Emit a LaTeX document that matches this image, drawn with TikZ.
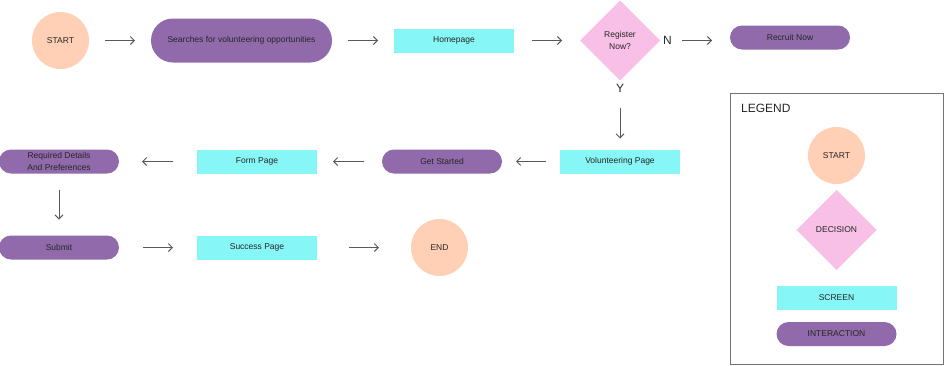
\documentclass[tikz,border=0pt]{standalone}
\usepackage{fontspec}
\setmainfont{Liberation Sans}
\usepackage{xcolor}
\usetikzlibrary{arrows.meta,positioning,shapes.geometric}
\definecolor{peach}{RGB}{255,208,181}
\definecolor{violet}{RGB}{144,106,170}
\definecolor{aqua}{RGB}{135,246,246}
\definecolor{rose}{RGB}{248,192,230}
\tikzset{
  termnode/.style={circle,fill=peach,minimum size=57pt,inner sep=0pt,outer sep=0pt},
  interbox/.style={rectangle,rounded corners=12pt,fill=violet,minimum width=120pt,minimum height=24pt,inner sep=2pt,outer sep=0pt,align=center},
  screenbox/.style={rectangle,fill=aqua,minimum width=120pt,minimum height=24pt,inner sep=2pt,outer sep=0pt,align=center},
  decision/.style={diamond,fill=rose,aspect=1,minimum width=80pt,minimum height=80pt,inner sep=0pt,outer sep=0pt,align=center},
  biglabel/.style={inner sep=0pt,font=\fontsize{12}{14}\selectfont},
  legendbox/.style={rectangle,draw=black!55,line width=0.8pt,minimum width=213pt,minimum height=271pt,inner sep=0pt,outer sep=0pt},
  arrow/.style={-{Straight Barb[length=4pt,width=8pt]},line width=1pt,draw=black!65,shorten <=16pt,shorten >=16pt}
}

\begin{document}
\begin{tikzpicture}[x=1pt,y=1pt,every node/.style={font=\fontsize{8.5}{12}\selectfont,text=black!85}]
  \useasboundingbox (0,0) rectangle (944,-365);

  \node[termnode] (start) at (60.5,-40.5) {START};
  \node[interbox,rounded corners=22pt,minimum width=181pt,minimum height=44pt,right=62pt of start] (search) {Searches for volunteering opportunities};
  \node[screenbox,right=62pt of search] (home) {Homepage};
  \node[decision,right=66pt of home] (reg) {Register\\Now?};
  \node[interbox,right=70pt of reg,yshift=3pt] (recruit) {Recruit Now};
  \node[biglabel,right=3pt of reg.east] (no) {N};
  \node[biglabel,below=4pt of reg.south] (yes) {Y};

  \node[screenbox,below=69pt of reg] (vol) {Volunteering Page};
  \node[interbox,left=58pt of vol] (getstarted) {Get Started};
  \node[screenbox,left=65pt of getstarted] (form) {Form Page};
  \node[interbox,left=78pt of form] (details) {Required Details\\And Preferences};
  \node[interbox,below=62pt of details] (submit) {Submit};
  \node[screenbox,right=78pt of submit] (success) {Success Page};
  \node[termnode,right=94pt of success] (finish) {END};

  \draw[arrow] (start) -- (search);
  \draw[arrow] (search) -- (home);
  \draw[arrow,shorten <=18pt,shorten >=18pt] (home) -- (reg);
  \draw[arrow,shorten <=22pt,shorten >=18pt] (reg.east) -- (reg.east -| recruit.west);
  \draw[arrow,shorten <=27pt,shorten >=11pt] (reg) -- (vol);
  \draw[arrow,shorten <=14pt,shorten >=14pt] (vol) -- (getstarted);
  \draw[arrow,shorten <=18pt,shorten >=16pt] (getstarted) -- (form);
  \draw[arrow,shorten <=24pt,shorten >=23pt] (form) -- (details);
  \draw[arrow] (details) -- (submit);
  \draw[arrow,shorten <=24pt,shorten >=24pt] (submit) -- (success);
  \draw[arrow,shorten <=32pt,shorten >=32pt] (success) -- (finish);

  \node[legendbox] (legend) at (836.5,-228.5) {};
  \node[biglabel,anchor=north west] (legendtitle) at ([xshift=11pt,yshift=-11pt]legend.north west) {LEGEND};
  \node[termnode,below=34pt of legend.north] (lstart) {START};
  \node[decision,below=6pt of lstart] (ldecision) {DECISION};
  \node[screenbox,below=16pt of ldecision] (lscreen) {SCREEN};
  \node[interbox,below=12pt of lscreen] (linter) {INTERACTION};
\end{tikzpicture}
\end{document}
